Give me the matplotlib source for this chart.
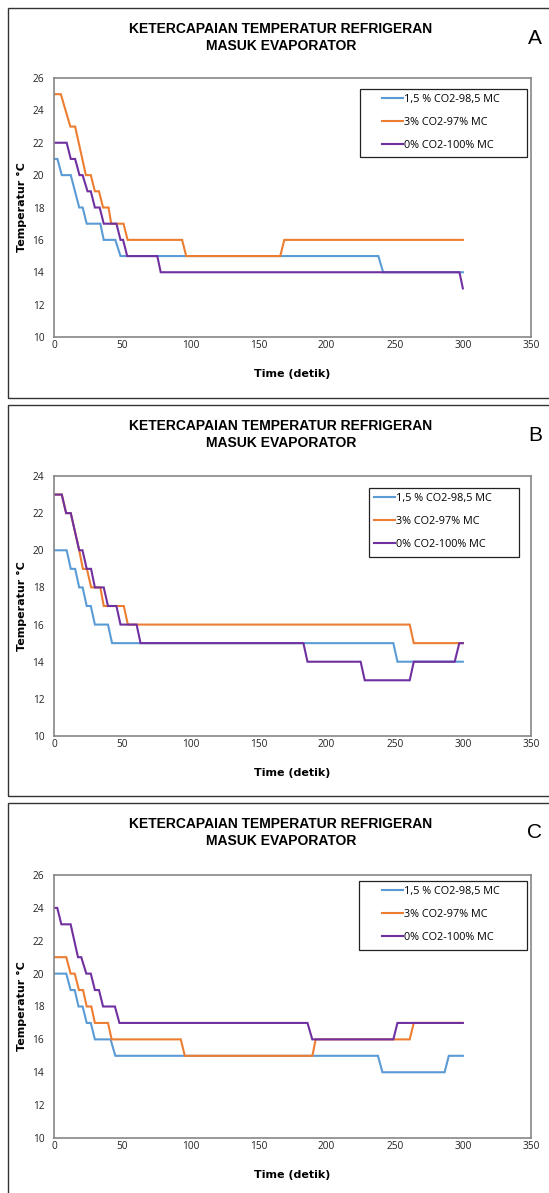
import matplotlib
matplotlib.use('Agg')
import matplotlib.pyplot as plt
from matplotlib.patches import Rectangle

# ---------------- data ----------------
series_labels = ["1,5 % CO2-98,5 MC", "3% CO2-97% MC", "0% CO2-100% MC"]
series_colors = ['#5B9BD5', '#ED7D31', '#7030A0']
x_ticks = [0, 50, 100, 150, 200, 250, 300, 350]

# Panel A
a_blue_t = [0, 2.5, 5.7, 12.3, 18.5, 21, 24, 34, 36.5, 45, 48.8, 238, 241.5, 300]
a_blue_T = [21, 21, 20, 20, 18, 18, 17, 17, 16, 16, 15, 15, 14, 14]
a_orange_t = [0, 5, 12, 15.5, 23.4, 27, 30, 33, 36, 40, 42, 51, 54, 94, 97, 166, 169, 300]
a_orange_T = [25, 25, 23, 23, 20, 20, 19, 19, 18, 18, 17, 17, 16, 16, 15, 15, 16, 16]
a_purple_t = [0, 9.3, 12.3, 15.5, 18.7, 21, 24.6, 27, 30, 33.5, 36.5, 45.8, 48.8, 50.7, 53.7,
              75.8, 78.3, 297.5, 300]
a_purple_T = [22, 22, 21, 21, 20, 20, 19, 19, 18, 18, 17, 17, 16, 16, 15, 15, 14, 14, 13]

# Panel B
b_blue_t = [0, 9.3, 12.3, 15.5, 18.5, 21, 24, 27, 30, 39.6, 42.6, 249, 252, 300]
b_blue_T = [20, 20, 19, 19, 18, 18, 17, 17, 16, 16, 15, 15, 14, 14]
b_orange_t = [0, 5.7, 8.9, 12.3, 18.5, 21.2, 24.1, 27.3, 34, 36.5, 51.2, 54.2, 261, 264, 300]
b_orange_T = [23, 23, 22, 22, 20, 19, 19, 18, 18, 17, 17, 16, 16, 15, 15]
b_purple_t = [0, 5.7, 8.9, 12.3, 18.5, 20.9, 24, 27.2, 30, 36.5, 39.6, 45.8, 48.8, 60.6, 63.5,
              183, 186, 225, 228, 261, 264, 294, 297.4, 300]
b_purple_T = [23, 23, 22, 22, 20, 20, 19, 19, 18, 18, 17, 17, 16, 16, 15,
              15, 14, 14, 13, 13, 14, 14, 15, 15]

# Panel C
c_blue_t = [0, 9, 12.2, 15.2, 18, 21, 24, 27, 30, 41.5, 45, 237.7, 241, 286.6, 289.7, 300]
c_blue_T = [20, 20, 19, 19, 18, 18, 17, 17, 16, 16, 15, 15, 14, 14, 15, 15]
c_orange_t = [0, 9, 12.2, 15.2, 18.3, 21.3, 24, 27.4, 30, 39.6, 42.3, 93, 96, 189.6, 192,
              261, 264, 300]
c_orange_T = [21, 21, 20, 20, 19, 19, 18, 18, 17, 17, 16, 16, 15, 15, 16, 16, 17, 17]
c_purple_t = [0, 2.4, 5.4, 12.2, 17.6, 20, 23.7, 27, 30, 33, 36, 44.7, 48, 186, 189.5,
              249, 252, 300]
c_purple_T = [24, 24, 23, 23, 21, 21, 20, 20, 19, 19, 18, 18, 17, 17, 16, 16, 17, 17]

title_lines = ["KETERCAPAIAN TEMPERATUR REFRIGERAN", "MASUK EVAPORATOR"]
x_label = "Time (detik)"
y_label = "Temperatur °C"

# ---------------- layout (pixels) ----------------
W, H = 549, 1193
panels = [
    dict(letter='A', data=[(a_blue_t, a_blue_T), (a_orange_t, a_orange_T), (a_purple_t, a_purple_T)],
         ylim=(10, 26), frame=(8, 8, 600, 398), axes=(54, 78, 531, 337), legend=(360, 89, 527, 157)),
    dict(letter='B', data=[(b_blue_t, b_blue_T), (b_orange_t, b_orange_T), (b_purple_t, b_purple_T)],
         ylim=(10, 24), frame=(8, 405, 600, 796), axes=(54, 476, 531, 736), legend=(369, 488, 519, 557)),
    dict(letter='C', data=[(c_blue_t, c_blue_T), (c_orange_t, c_orange_T), (c_purple_t, c_purple_T)],
         ylim=(10, 26), frame=(8, 803, 600, 1300), axes=(54, 875, 531, 1138), legend=(359, 881, 527, 950)),
]


def fx(x):
    return x / W


def fy(y):
    return 1 - y / H


fig = plt.figure(figsize=(W / 100, H / 100), dpi=100)
fig.patch.set_facecolor('white')

tick_font = 'Open Sans'
spine_col = '#868686'

for p in panels:
    fl, ft, fr, fb = p['frame']
    fig.patches.append(Rectangle((fx(fl), fy(fb)), fx(fr - fl), (fb - ft) / H,
                                 transform=fig.transFigure, fill=False,
                                 edgecolor='#333333', linewidth=1.0))
    al, at, ar, ab = p['axes']
    ax = fig.add_axes([fx(al), fy(ab), fx(ar - al), (ab - at) / H])
    for (t, T), c, lab in zip(p['data'], series_colors, series_labels):
        ax.plot(t, T, color=c, linewidth=1.5, label=lab, solid_joinstyle='miter')
    ax.set_xlim(0, 350)
    ax.set_ylim(*p['ylim'])
    ax.set_xticks(x_ticks)
    ax.set_yticks(range(p['ylim'][0], p['ylim'][1] + 1, 2))
    ax.tick_params(length=0, labelsize=7.3, colors='#222222')
    ax.tick_params(axis='y', pad=7)
    ax.tick_params(axis='x', pad=2)
    for lb in ax.get_xticklabels() + ax.get_yticklabels():
        lb.set_fontfamily(tick_font)
    for s in ax.spines.values():
        s.set_color(spine_col)
        s.set_linewidth(1.2)

    # legend
    ll, lt, lr, lbm = p['legend']
    fig.patches.append(Rectangle((fx(ll), fy(lbm)), fx(lr - ll), (lbm - lt) / H,
                                 transform=fig.transFigure, fill=False,
                                 edgecolor='#222222', linewidth=0.9, zorder=5))
    leg = ax.legend(loc='upper left', bbox_to_anchor=(fx(lr - 147), fy(lt + 3)),
                    bbox_transform=fig.transFigure, frameon=False,
                    prop=dict(family=tick_font, size=7.8), handlelength=1.9,
                    handletextpad=0.1, labelspacing=1.1, borderpad=0.2,
                    borderaxespad=0)

    # titles
    cx = fx(281)
    fig.text(cx, fy(ft + 21), title_lines[0], ha='center', va='center',
             fontsize=10, fontweight='bold', family='Liberation Sans')
    fig.text(cx, fy(ft + 38), title_lines[1], ha='center', va='center',
             fontsize=10, fontweight='bold', family='Liberation Sans')
    fig.text(fx(535), fy(ft + 30), p['letter'], ha='center', va='center',
             fontsize=15, family='Liberation Sans')
    fig.text(fx((al + ar) / 2), fy(ab + 37), x_label, ha='center', va='center',
             fontsize=8, fontweight='bold', family='DejaVu Sans')
    fig.text(fx(22), fy((at + ab) / 2), y_label, ha='center', va='center',
             rotation=90, fontsize=8, fontweight='bold', family='DejaVu Sans')

fig.savefig('out.png', dpi=100)
